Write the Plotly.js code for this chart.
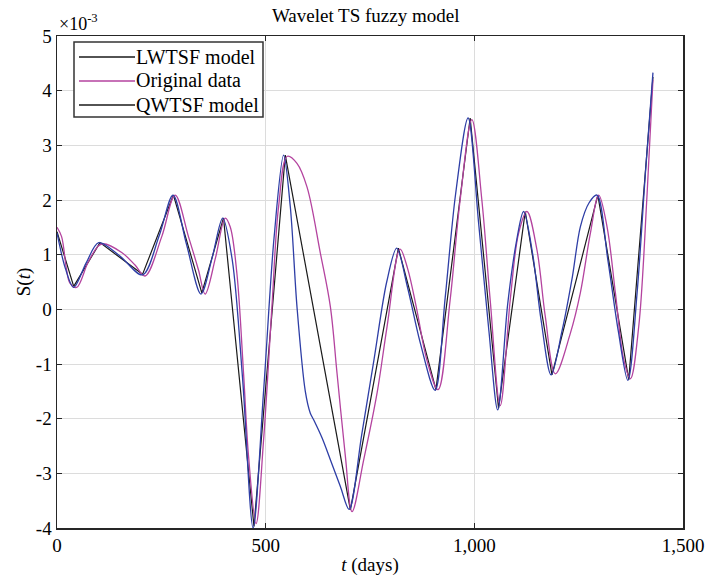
<!DOCTYPE html>
<html>
<head>
<meta charset="utf-8">
<script src="https://cdn.plot.ly/plotly-3.0.1.min.js"></script>
<style>html,body{margin:0;padding:0;background:#fff;}#chart{width:706px;height:581px;}</style>
</head>
<body>
<div id="chart"></div>
<script>
// Values in units of 1e-3
const lwtsfX = [0,40,103,205,279,347,399,472,547,703,818,908,990,1058,1122,1186,1296,1370,1428];
const lwtsfY = [1.42,0.42,1.22,0.64,2.09,0.30,1.67,-3.97,2.82,-3.67,1.12,-1.47,3.50,-1.81,1.79,-1.20,2.09,-1.29,4.25];

const origX = [0,11,23,31,47,75,99,111,155,187,211,251,283,315,339,355,380,403,415,431,447,459,477,495,515,531,552,575,599,631,655,671,691,707,735,767,791,822,840,862,886,913,942,966,994,1018,1038,1062,1086,1106,1126,1150,1170,1194,1230,1254,1278,1298,1318,1338,1358,1374,1394,1414,1428];
const origY = [1.50,1.33,0.72,0.48,0.40,0.87,1.16,1.20,1.04,0.81,0.61,1.33,2.09,1.33,0.72,0.28,0.95,1.67,1.51,0.66,-1.17,-2.69,-3.92,-2.39,0.05,1.88,2.80,2.67,2.24,1.03,0.05,-1.17,-2.69,-3.70,-2.75,-1.53,-0.31,1.10,0.75,0.00,-0.92,-1.47,0.17,2.00,3.47,2.00,0.17,-1.76,0.17,1.39,1.79,1.09,-0.13,-1.18,-0.44,0.30,1.39,2.09,1.51,0.30,-0.92,-1.27,-0.31,2.12,4.20];

const qwtsfX = [0,20,40,70,100,150,205,245,278,310,345,372,397,420,445,470,495,520,543,559,575,595,607,615,635,655,679,700,730,760,790,814,840,870,906,930,955,985,1010,1035,1056,1080,1100,1118,1140,1160,1184,1210,1235,1254,1275,1294,1320,1345,1368,1390,1410,1428];
const qwtsfY = [1.40,0.75,0.40,0.85,1.22,0.98,0.63,1.35,2.09,1.20,0.28,0.95,1.67,0.90,-1.30,-4.00,-1.50,1.30,2.82,1.88,0.05,-1.50,-1.90,-2.02,-2.35,-2.75,-3.24,-3.66,-2.30,-0.90,0.50,1.12,0.40,-0.60,-1.48,0.20,2.10,3.50,1.60,-0.40,-1.84,0.10,1.20,1.79,1.00,-0.20,-1.20,-0.40,0.60,1.51,1.95,2.09,0.90,-0.40,-1.30,0.30,2.50,4.33];

const xTickVals = [0,500,1000,1500];
const xTickText = ['0','500','1,000','1,500'];
const yTickVals = [-4,-3,-2,-1,0,1,2,3,4,5];
const yTickText = ['-4','-3','-2','-1','0','1','2','3','4','5'];

const legendNames = ['LWTSF model','Original data','QWTSF model'];
const legendColors = ['#1a1a1a','#b4439f','#1a1a1a'];

const FONT = 'Liberation Serif, Times New Roman, serif';

const traces = [
  {x: lwtsfX, y: lwtsfY, type: 'scatter', mode: 'lines', name: legendNames[0],
   line: {color: '#1a1a1a', width: 1.2}},
  {x: origX, y: origY, type: 'scatter', mode: 'lines', name: legendNames[1],
   line: {color: '#b4439f', width: 1.3, shape: 'spline', smoothing: 1.0}},
  {x: qwtsfX, y: qwtsfY, type: 'scatter', mode: 'lines', name: legendNames[2],
   line: {color: '#2e3ea6', width: 1.3, shape: 'spline', smoothing: 0.9}}
];

// manual legend (reference legend shows a black line for QWTSF model)
const L = 57, R = 683, T = 36, B = 528;
const px = v => (v - L) / (R - L);
const py = v => (B - v) / (B - T);
const rowY = [57, 81, 105];
const shapes = [
  {type: 'rect', xref: 'paper', yref: 'paper', x0: px(74), x1: px(263), y0: py(117), y1: py(42),
   fillcolor: '#ffffff', line: {color: '#333333', width: 1.5}, layer: 'above'}
];
const annotations = [
  {xref: 'paper', yref: 'paper', x: 0.0, y: 1.0, xanchor: 'left', yanchor: 'bottom',
   text: '×10<sup>-3</sup>', showarrow: false, font: {family: FONT, size: 18, color: '#000'}}
];
legendNames.forEach((n, i) => {
  shapes.push({type: 'line', xref: 'paper', yref: 'paper', x0: px(79), x1: px(135), y0: py(rowY[i]), y1: py(rowY[i]),
               line: {color: legendColors[i], width: 1.3}, layer: 'above'});
  annotations.push({xref: 'paper', yref: 'paper', x: px(135), y: py(rowY[i]), xanchor: 'left', yanchor: 'middle',
                    text: n, showarrow: false, font: {family: FONT, size: 20, color: '#000'}, borderpad: 0, xshift: 0});
});

const layout = {
  width: 706, height: 581,
  margin: {l: L, r: 706 - R, t: T, b: 581 - B},
  paper_bgcolor: '#ffffff', plot_bgcolor: '#ffffff',
  font: {family: FONT, size: 19, color: '#000'},
  title: {text: 'Wavelet TS fuzzy model', x: 0.518, xanchor: 'center', y: 0.985, yanchor: 'top',
          font: {family: FONT, size: 19, color: '#000'}},
  showlegend: false,
  xaxis: {
    range: [0, 1500], tickvals: xTickVals, ticktext: xTickText,
    showgrid: true, gridcolor: '#dcdcdc', gridwidth: 1,
    zeroline: false, showline: true, linecolor: '#262626', linewidth: 1.5, mirror: 'ticks',
    ticks: 'inside', ticklen: 5, tickcolor: '#262626',
    tickfont: {family: FONT, size: 19, color: '#000'},
    title: {text: '<i>t</i> (days)', font: {family: FONT, size: 19, color: '#000'}, standoff: 2}
  },
  yaxis: {
    range: [-4, 5], tickvals: yTickVals, ticktext: yTickText,
    showgrid: true, gridcolor: '#dcdcdc', gridwidth: 1,
    zeroline: false, showline: true, linecolor: '#262626', linewidth: 1.5, mirror: 'ticks',
    ticks: 'inside', ticklen: 5, tickcolor: '#262626',
    tickfont: {family: FONT, size: 19, color: '#000'},
    title: {text: 'S(<i>t</i>)', font: {family: FONT, size: 19, color: '#000'}, standoff: 0}
  },
  shapes: shapes,
  annotations: annotations
};

Plotly.newPlot('chart', traces, layout, {displayModeBar: false, staticPlot: true});
</script>
</body>
</html>
